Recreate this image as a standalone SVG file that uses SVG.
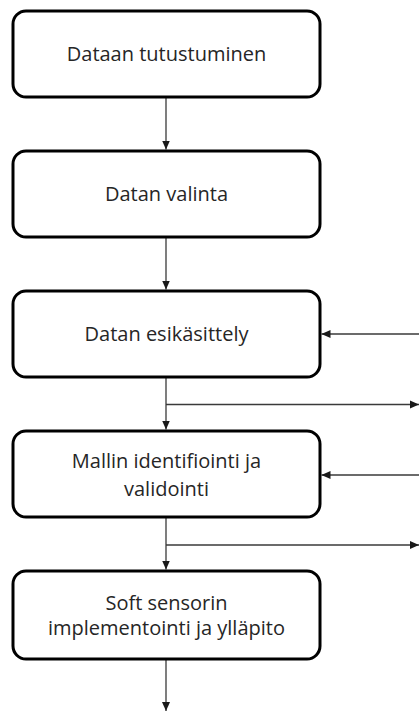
<svg xmlns="http://www.w3.org/2000/svg" width="419" height="711" viewBox="0 0 419 711">
  <defs>
    <marker id="arrow" markerUnits="userSpaceOnUse" markerWidth="9" markerHeight="9" viewBox="0 0 9 9" refX="9" refY="4.5" orient="auto">
      <path d="M0,0.5 L9,4.5 L0,8.5 Z" fill="#1a1a1a"/>
    </marker>
  </defs>
  <style>
    .box { fill: #ffffff; stroke: #000000; stroke-width: 3; }
    .lbl { font-family: "Open Sans", "Liberation Sans", sans-serif; font-size: 20px; fill: #262626; text-anchor: middle; }
    .conn { stroke: #3a3a3a; stroke-width: 1.3; fill: none; marker-end: url(#arrow); }
  </style>
  <rect width="419" height="711" fill="#ffffff"/>
  <g id="connectors">
    <line class="conn" x1="166" y1="97" x2="166" y2="149.5"/>
    <line class="conn" x1="166" y1="237" x2="166" y2="289.5"/>
    <line class="conn" x1="166" y1="377" x2="166" y2="429.5"/>
    <line class="conn" x1="166" y1="404.5" x2="419" y2="404.5"/>
    <line class="conn" x1="419" y1="334" x2="321.5" y2="334"/>
    <line class="conn" x1="166" y1="517" x2="166" y2="569.5"/>
    <line class="conn" x1="166" y1="545" x2="419" y2="545"/>
    <line class="conn" x1="419" y1="475" x2="321.5" y2="475"/>
    <line class="conn" x1="166" y1="659" x2="166" y2="711"/>
  </g>
  <g id="node-tutustuminen">
    <rect class="box" x="13" y="11" width="307" height="86" rx="13"/>
    <text class="lbl" x="166.5" y="61">Dataan tutustuminen</text>
  </g>
  <g id="node-valinta">
    <rect class="box" x="13" y="151" width="307" height="86" rx="13"/>
    <text class="lbl" x="166.5" y="201">Datan valinta</text>
  </g>
  <g id="node-esikasittely">
    <rect class="box" x="13" y="291" width="307" height="86" rx="13"/>
    <text class="lbl" x="166.5" y="341">Datan esikäsittely</text>
  </g>
  <g id="node-mallin">
    <rect class="box" x="13" y="431" width="307" height="86" rx="13"/>
    <text class="lbl" x="166.5" y="468">Mallin identifiointi ja</text>
    <text class="lbl" x="166.5" y="496">validointi</text>
  </g>
  <g id="node-softsensor">
    <rect class="box" x="13" y="571" width="307" height="88" rx="13"/>
    <text class="lbl" x="166.5" y="610">Soft sensorin</text>
    <text class="lbl" x="166.5" y="635">implementointi ja ylläpito</text>
  </g>
</svg>
